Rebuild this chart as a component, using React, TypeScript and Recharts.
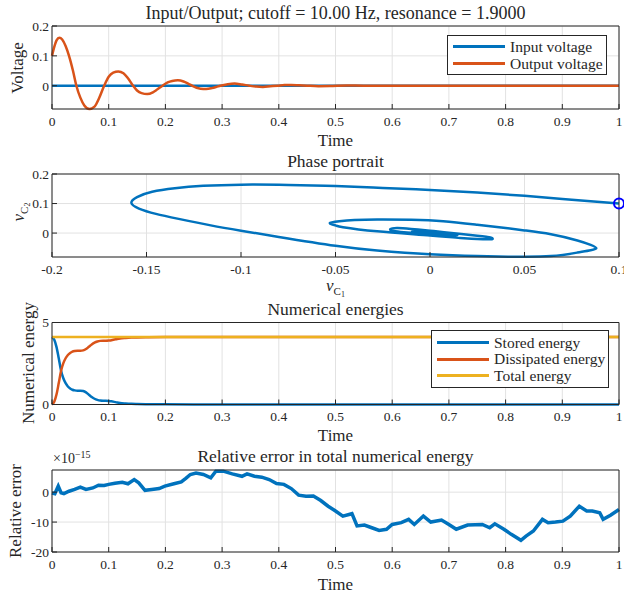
import React from 'react';
import { LineChart, Line, XAxis, YAxis, CartesianGrid, Legend } from 'recharts';

const FONT = '"Liberation Serif", "DejaVu Serif", serif';
const INK = '#262626';
const GRID = '#e2e2e2';
const BLUE = '#0072bd';
const ORANGE = '#d95319';
const YELLOW = '#edb120';

// ---- shared ticks ----
const timeTicks = [0, 0.1, 0.2, 0.3, 0.4, 0.5, 0.6, 0.7, 0.8, 0.9, 1];
const voltTicks = [0, 0.1, 0.2];
const vc1Ticks = [-0.2, -0.15, -0.1, -0.05, 0, 0.05, 0.1];
const vc2Ticks = [0, 0.1, 0.2];
const energyTicks = [0, 5];
const errTicks = [-20, -10, 0];

// ---- 1. input / output voltage ----
const inputT = [0, 1];
const inputV = [0, 0];
const outT = [0, 0.004, 0.008, 0.013, 0.018, 0.024, 0.03, 0.037, 0.043, 0.05, 0.057, 0.066, 0.075, 0.083, 0.092,
  0.1, 0.108, 0.117, 0.126, 0.134, 0.143, 0.15, 0.158, 0.168, 0.178, 0.186, 0.195, 0.204, 0.212, 0.222, 0.232,
  0.24, 0.247, 0.255, 0.262, 0.272, 0.282, 0.29, 0.297, 0.31, 0.322, 0.335, 0.348, 0.36, 0.372, 0.385, 0.398,
  0.41, 0.422, 0.435, 0.45, 0.47, 0.49, 0.52, 0.55, 0.6, 0.7, 0.8, 0.9, 1];
const outV = [0.1, 0.13, 0.152, 0.161, 0.155, 0.133, 0.1, 0.05, 0, -0.04, -0.066, -0.078, -0.07, -0.042, 0,
  0.03, 0.044, 0.048, 0.042, 0.025, 0, -0.016, -0.025, -0.028, -0.022, -0.012, 0, 0.011, 0.016, 0.018, 0.014,
  0.007, 0, -0.007, -0.01, -0.011, -0.008, -0.004, 0, 0.005, 0.007, 0.004, 0, -0.003, -0.004, -0.002, 0,
  0.002, 0.0025, 0.0015, 0, -0.0015, -0.001, 0.001, 0, 0, 0, 0, 0, 0];

// ---- 2. phase portrait (v_C1, v_C2) in time order ----
const vc1 = [0.1, 0.075, 0.05, 0.025, 0, -0.025, -0.05, -0.075, -0.1, -0.12, -0.135, -0.147, -0.155, -0.158,
  -0.154, -0.145, -0.133, -0.116, -0.1, -0.08, -0.05, -0.028, 0, 0.025, 0.045, 0.064, 0.078, 0.085, 0.088,
  0.085, 0.078, 0.064, 0.05, 0.04, 0.025, 0.007, -0.01, -0.028, -0.04, -0.048, -0.053, -0.05, -0.046, -0.028,
  0, 0.016, 0.028, 0.033, 0.032, 0.025, 0.0074, 0, -0.01, -0.0175, -0.021, -0.02, -0.0155, 0, 0.0127, 0.014,
  0.011, 0.005, 0, -0.006, -0.009, -0.009, -0.005, 0, 0.005, 0.0075, 0.006, 0.002, -0.002, -0.004, -0.004,
  -0.001, 0.002, 0.003, 0.001, 0];
const vc2 = [0.1, 0.113, 0.126, 0.137, 0.146, 0.153, 0.159, 0.163, 0.164, 0.16, 0.152, 0.14, 0.122, 0.102,
  0.083, 0.065, 0.048, 0.026, 0.008, -0.013, -0.043, -0.059, -0.072, -0.078, -0.08, -0.078, -0.066, -0.058, -0.051,
  -0.04, -0.025, -0.004, 0.009, 0.017, 0.028, 0.04, 0.045, 0.046, 0.044, 0.04, 0.034, 0.026, 0.02, 0.006,
  -0.008, -0.017, -0.021, -0.02, -0.015, -0.009, 0.003, 0.008, 0.014, 0.017, 0.013, 0.008, 0.004, -0.003, -0.007, -0.006,
  -0.003, 0.0015, 0.004, 0.007, 0.006, 0.003, 0.0005, -0.0015, -0.003, -0.003, -0.001, 0.001, 0.003, 0.003, 0.001,
  -0.0005, -0.001, -0.001, 0.0005, 0];
const startPoint = [{ x: 0.1, y: 0.1 }];

// ---- 3. energies ----
const energyT = [0, 0.004, 0.008, 0.012, 0.016, 0.02, 0.024, 0.028, 0.032, 0.036, 0.04, 0.045, 0.05, 0.055, 0.06,
  0.065, 0.07, 0.075, 0.08, 0.085, 0.09, 0.095, 0.1, 0.105, 0.11, 0.115, 0.12, 0.13, 0.14, 0.15, 0.17, 0.2, 0.25, 1];
const stored = [4.12, 3.95, 3.5, 2.8, 2.06, 1.6, 1.3, 1.1, 0.98, 0.9, 0.86, 0.84, 0.84, 0.82, 0.74,
  0.6, 0.46, 0.35, 0.28, 0.24, 0.23, 0.23, 0.22, 0.2, 0.16, 0.12, 0.09, 0.06, 0.04, 0.03, 0.02, 0.01, 0.003, 0];
const dissipated = [0, 0.17, 0.62, 1.32, 2.06, 2.52, 2.82, 3.02, 3.14, 3.22, 3.26, 3.28, 3.28, 3.3, 3.38,
  3.52, 3.66, 3.77, 3.84, 3.88, 3.89, 3.89, 3.9, 3.92, 3.96, 4.0, 4.03, 4.06, 4.08, 4.09, 4.1, 4.11, 4.117, 4.12];
const totalT = [0, 1];
const totalE = [4.12, 4.12];

// ---- 4. relative error (x 1e-15), [time, value] ----
const relErr: [number, number][] = [
  [0, -0.3], [0.005, -0.5], [0.011, 2.0], [0.016, -0.2], [0.021, -0.5], [0.03, 0.3], [0.04, 0.9], [0.05, 1.7],
  [0.06, 0.9], [0.072, 1.4], [0.082, 2.3], [0.092, 2.2], [0.1, 2.6], [0.111, 3.0], [0.124, 3.3], [0.134, 2.8],
  [0.145, 4.2], [0.153, 3.1], [0.164, 0.6], [0.176, 0.9], [0.189, 1.2], [0.199, 2.0], [0.215, 2.8], [0.228, 3.4],
  [0.236, 4.6], [0.244, 5.9], [0.254, 6.4], [0.267, 5.9], [0.28, 4.8], [0.289, 7.0], [0.302, 7.0], [0.318, 6.1],
  [0.335, 5.3], [0.344, 6.1], [0.357, 5.3], [0.37, 5.0], [0.383, 4.2], [0.396, 2.9], [0.409, 2.6], [0.422, 1.2],
  [0.435, -1.0], [0.448, -1.4], [0.461, -1.3], [0.474, -2.8], [0.487, -4.7], [0.5, -6.3], [0.513, -8.0],
  [0.529, -7.2], [0.538, -11.3], [0.551, -11.0], [0.564, -11.9], [0.577, -12.8], [0.59, -12.4], [0.6, -10.8],
  [0.616, -10.2], [0.629, -9.1], [0.639, -10.8], [0.655, -8.0], [0.668, -10.0], [0.687, -9.3], [0.7, -10.8],
  [0.713, -12.4], [0.733, -11.0], [0.759, -10.8], [0.772, -11.9], [0.781, -10.6], [0.797, -12.4], [0.81, -14.1],
  [0.827, -16.1], [0.836, -14.7], [0.849, -13.0], [0.865, -9.1], [0.875, -10.2], [0.888, -10.0], [0.901, -9.7],
  [0.914, -8.0], [0.93, -4.7], [0.943, -6.3], [0.953, -6.3], [0.966, -6.9], [0.972, -9.1], [0.985, -7.7], [1, -5.8],
];

const voltLegend = [
  { label: 'Input voltage', color: BLUE },
  { label: 'Output voltage', color: ORANGE },
];
const energyLegend = [
  { label: 'Stored energy', color: BLUE },
  { label: 'Dissipated energy', color: ORANGE },
  { label: 'Total energy', color: YELLOW },
];

const pts = (xs: number[], ys: number[]) => xs.map((x, i) => ({ x, y: ys[i] }));

const inputData = pts(inputT, inputV);
const outputData = pts(outT, outV);
const phaseData = pts(vc1, vc2);
const storedData = pts(energyT, stored);
const dissData = pts(energyT, dissipated);
const totalData = pts(totalT, totalE);
const errData = relErr.map(([x, y]) => ({ x, y }));

const tickStyle = { fontSize: 13.5, fill: INK, fontFamily: FONT };

// MATLAB-ish boxed axes: ticks inside on all four sides
function frame(xDomain: number[], xTicks: number[], yDomain: number[], yTicks: number[], xh: number) {
  return [
    <CartesianGrid key="g" xAxisId="b" yAxisId="l" stroke={GRID} strokeWidth={1} />,
    <XAxis key="b" xAxisId="b" type="number" dataKey="x" domain={xDomain} ticks={xTicks} interval={0}
      height={xh} stroke={INK} tickSize={-5} tickMargin={12} tick={tickStyle}
      tickFormatter={(v: number) => String(v)} />,
    <XAxis key="t" xAxisId="t" orientation="top" type="number" dataKey="x" domain={xDomain} ticks={xTicks}
      interval={0} mirror allowDataOverflow stroke={INK} tickSize={5} tick={false} />,
    <YAxis key="l" yAxisId="l" type="number" domain={yDomain} ticks={yTicks} interval={0} width={52}
      stroke={INK} tickSize={-5} tickMargin={8} tick={tickStyle} tickFormatter={(v: number) => String(v)} />,
    <YAxis key="r" yAxisId="r" orientation="right" type="number" domain={yDomain} ticks={yTicks}
      interval={0} mirror allowDataOverflow stroke={INK} tickSize={5} tick={false} />,
  ];
}

function boxLegend(items: { label: string; color: string }[], rowH: number, pad: number, size: number) {
  return () => (
    <div style={{
      border: `1px solid ${INK}`, background: '#fff', padding: `${pad}px 0`, boxSizing: 'border-box',
      fontFamily: FONT, fontSize: size, color: INK, lineHeight: 1, whiteSpace: 'nowrap',
    }}>
      {items.map((p) => (
        <div key={p.label} style={{ display: 'flex', alignItems: 'center', height: rowH }}>
          <span style={{ display: 'inline-block', flex: 'none', width: 52, height: 3, background: p.color, margin: '0 5px' }} />
          <span>{p.label}</span>
        </div>
      ))}
    </div>
  );
}

function Txt({ x, y, size = 17, rotate = false, children }: any) {
  return (
    <div style={{
      position: 'absolute', left: x, top: y, whiteSpace: 'nowrap', fontFamily: FONT, fontSize: size,
      color: INK, lineHeight: 1, transform: `translate(-50%, -50%)${rotate ? ' rotate(-90deg)' : ''}`,
    }}>{children}</div>
  );
}

// v_{C_n} with nested subscripts that do not grow the line box
function VC({ n }: { n: number }) {
  return (
    <span>
      <i>v</i>
      <span style={{ position: 'relative', top: 4, fontSize: 11 }}>C
        <span style={{ position: 'relative', top: 2, fontSize: 8 }}>{n}</span>
      </span>
    </span>
  );
}

const CX = 335.5;

export default function App() {
  return (
    <div style={{ position: 'absolute', left: 0, top: 0, width: 624, height: 592, background: '#fff' }}>
      <div style={{ position: 'absolute', left: 0, top: 0 }}>
        <LineChart width={624} height={150} margin={{ top: 26, right: 5, bottom: 0, left: 0 }}>
          {frame([0, 1], timeTicks, [-0.078, 0.2], voltTicks, 41)}
          <Line xAxisId="b" yAxisId="l" data={inputData} dataKey="y" name="Input voltage" stroke={BLUE}
            strokeWidth={2.5} dot={false} isAnimationActive={false} />
          <Line xAxisId="b" yAxisId="l" data={outputData} dataKey="y" name="Output voltage" type="monotone"
            stroke={ORANGE} strokeWidth={2.5} dot={false} isAnimationActive={false} />
          <Legend layout="vertical" align="center" verticalAlign="middle"
            wrapperStyle={{ left: 447, top: 35, width: 160 }} content={boxLegend(voltLegend, 17, 2, 15.5)} />
        </LineChart>
      </div>
      <div style={{ position: 'absolute', left: 0, top: 150 }}>
        <LineChart width={624} height={150} margin={{ top: 24, right: 5, bottom: 0, left: 0 }}>
          {frame([-0.2, 0.1], vc1Ticks, [-0.081, 0.2], vc2Ticks, 43)}
          <Line xAxisId="b" yAxisId="l" data={phaseData} dataKey="y" type="natural" stroke={BLUE}
            strokeWidth={2.5} dot={false} isAnimationActive={false} />
          <Line xAxisId="b" yAxisId="l" data={startPoint} dataKey="y" stroke="none"
            dot={{ r: 5, stroke: '#0000ff', strokeWidth: 2, fill: 'none' }} isAnimationActive={false} />
        </LineChart>
      </div>
      <div style={{ position: 'absolute', left: 0, top: 300 }}>
        <LineChart width={624} height={145} margin={{ top: 22.5, right: 5, bottom: 0, left: 0 }}>
          {frame([0, 1], timeTicks, [0, 5], energyTicks, 40.5)}
          <Line xAxisId="b" yAxisId="l" data={storedData} dataKey="y" name="Stored energy" type="monotone"
            stroke={BLUE} strokeWidth={2.5} dot={false} isAnimationActive={false} />
          <Line xAxisId="b" yAxisId="l" data={dissData} dataKey="y" name="Dissipated energy" type="monotone"
            stroke={ORANGE} strokeWidth={2.5} dot={false} isAnimationActive={false} />
          <Line xAxisId="b" yAxisId="l" data={totalData} dataKey="y" name="Total energy"
            stroke={YELLOW} strokeWidth={2.5} dot={false} isAnimationActive={false} />
          <Legend layout="vertical" align="center" verticalAlign="middle"
            wrapperStyle={{ left: 431, top: 30, width: 178 }} content={boxLegend(energyLegend, 16.7, 3, 15.5)} />
        </LineChart>
      </div>
      <div style={{ position: 'absolute', left: 0, top: 445 }}>
        <LineChart width={624} height={147} margin={{ top: 25, right: 5, bottom: 0, left: 0 }}>
          {frame([0, 1], timeTicks, [-20, 7.4], errTicks, 40)}
          <Line xAxisId="b" yAxisId="l" data={errData} dataKey="y" stroke={BLUE} strokeWidth={3.5}
            dot={false} isAnimationActive={false} />
        </LineChart>
      </div>

      <Txt x={CX} y={13} size={18}>Input/Output; cutoff = 10.00 Hz, resonance = 1.9000</Txt>
      <Txt x={17} y={68} rotate>Voltage</Txt>
      <Txt x={CX} y={140}>Time</Txt>

      <Txt x={CX} y={162} size={17.5}>Phase portrait</Txt>
      <Txt x={18} y={212} rotate><VC n={2} /></Txt>
      <Txt x={CX} y={285}><VC n={1} /></Txt>

      <Txt x={CX} y={310} size={17.5}>Numerical energies</Txt>
      <Txt x={28} y={363} rotate>Numerical energy</Txt>
      <Txt x={CX} y={435}>Time</Txt>

      <Txt x={CX} y={457} size={17.5}>Relative error in total numerical energy</Txt>
      <div style={{ position: 'absolute', left: 53, top: 452, fontFamily: FONT, fontSize: 14, color: INK, lineHeight: 1 }}>
        ×10<span style={{ position: 'relative', top: -5, fontSize: 10 }}>−15</span>
      </div>
      <Txt x={15} y={511} rotate>Relative error</Txt>
      <Txt x={CX} y={584}>Time</Txt>
    </div>
  );
}
